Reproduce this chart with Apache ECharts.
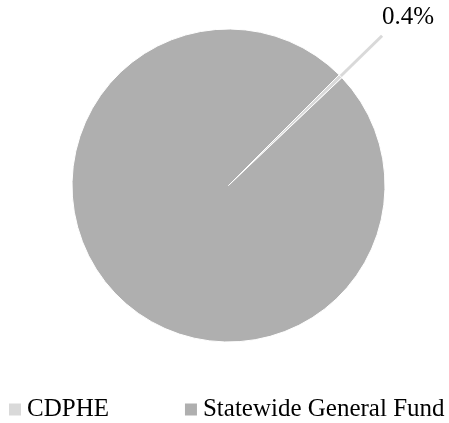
<!DOCTYPE html>
<html>
<head>
<meta charset="utf-8">
<style>
  html, body { margin: 0; padding: 0; background: #fff; }
  #chart { width: 449px; height: 423px; }
</style>
<script src="https://cdn.jsdelivr.net/npm/echarts@6/dist/echarts.min.js"></script>
</head>
<body>
<div id="chart"></div>
<script>
// Funding sources (percent of total)
const categories = ['CDPHE', 'Statewide General Fund'];
const shares = [0.4, 99.6];
const colors = ['#d9d9d9', '#afafaf'];

const FONT = '"Liberation Serif", "Times New Roman", serif';

const chart = echarts.init(document.getElementById('chart'), null, { renderer: 'canvas' });

const pieData = categories.map((name, i) => ({
  name,
  value: shares[i],
  itemStyle: { color: colors[i] },
  label: { show: i === 0 },
  labelLine: { show: i === 0 }
}));

chart.setOption({
  animation: false,
  backgroundColor: '#fff',
  legend: {
    data: categories,
    left: 7,
    top: 397,
    padding: 0,
    orient: 'horizontal',
    icon: 'rect',
    itemWidth: 14,
    itemHeight: 14,
    itemGap: 74,
    textStyle: { fontFamily: FONT, fontSize: 25, color: '#000' }
  },
  series: [{
    type: 'pie',
    center: [228.5, 185.5],
    radius: 156.5,
    startAngle: 45,
    clockwise: true,
    avoidLabelOverlap: false,
    itemStyle: { borderColor: '#fff', borderWidth: 1 },
    label: {
      position: 'outside',
      distanceToLabelLine: 0,
      // value on the first line, an empty spacer line underneath lifts it above the leader line
      formatter: p => '{v|' + p.value + '%}\n{s| }',
      rich: {
        v: { fontFamily: FONT, fontSize: 25, color: '#000', height: 25 },
        s: { fontSize: 10, height: 36 }
      }
    },
    labelLine: {
      length: 58,
      length2: 0,
      lineStyle: { color: '#d9d9d9', width: 3 }
    },
    emphasis: { disabled: true },
    data: pieData
  }]
});
</script>
</body>
</html>
